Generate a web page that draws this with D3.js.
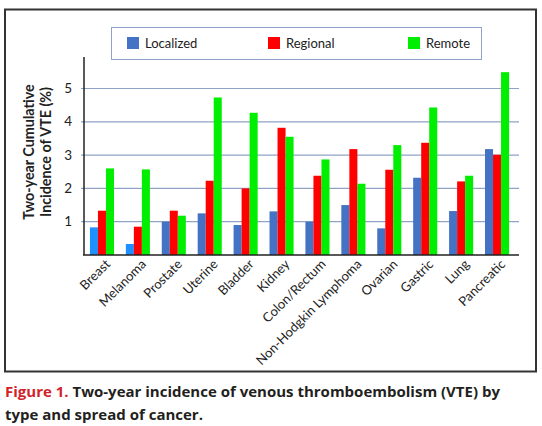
<!DOCTYPE html>
<html><head><meta charset="utf-8">
<script src="https://cdn.jsdelivr.net/npm/d3@7/dist/d3.min.js"></script>
<style>body{margin:0;background:#fff}svg{display:block}</style>
</head><body>
<svg id="c" width="542" height="426"></svg>
<script>
const categories = ["Breast","Melanoma","Prostate","Uterine","Bladder","Kidney","Colon/Rectum","Non-Hodgkin Lymphoma","Ovarian","Gastric","Lung","Pancreatic"];
const seriesNames = ["Localized","Regional","Remote"];
const localized = [0.83,0.33,1.0,1.25,0.9,1.31,1.0,1.5,0.8,2.32,1.32,3.18];
const regional  = [1.33,0.85,1.33,2.23,2.0,3.82,2.38,3.18,2.56,3.37,2.21,3.01];
const remote    = [2.6,2.57,1.18,4.73,4.27,3.55,2.87,2.14,3.3,4.43,2.38,5.49];
const yTicks = [1,2,3,4,5];
const colors = ["#4472C4","#FF0000","#00EE00"];
const lightBlue = "#1E90FF";

const svg = d3.select("#c");
const font = "Lato, 'Open Sans', sans-serif";

// outer frame
svg.append("rect").attr("x",5).attr("y",9.5).attr("width",531).attr("height",362)
  .attr("fill","none").attr("stroke","#333").attr("stroke-width",2);

const x0 = 84, x1 = 515, yBase = 255;
const x = d3.scaleBand().domain(categories).range([x0,x1]).paddingInner(0.33).paddingOuter(0.165);
const xs = d3.scaleBand().domain(seriesNames).range([0,x.bandwidth()]);
const y = d3.scaleLinear().domain([0,5]).range([yBase,88.5]);

// gridlines
svg.append("g").selectAll("line").data(yTicks).join("line")
  .attr("x1",81).attr("x2",519).attr("y1",d=>y(d)).attr("y2",d=>y(d))
  .attr("stroke","#8FA3C6").attr("stroke-width",1.2);

// y labels
svg.append("g").selectAll("text").data(yTicks).join("text")
  .attr("x",72).attr("y",d=>y(d)+4.5).attr("text-anchor","end")
  .attr("font-family",font).attr("font-size",13.5).attr("fill","#222").text(d=>d);

// bars
const data = [localized, regional, remote];
const g = svg.append("g");
categories.forEach((c,i)=>{
  seriesNames.forEach((s,j)=>{
    const v = data[j][i];
    let col = colors[j];
    if (j===0 && i<2) col = lightBlue;
    g.append("rect").attr("x",x(c)+xs(s)).attr("width",xs.bandwidth())
      .attr("y",y(v)).attr("height",yBase-y(v)).attr("fill",col);
  });
});

// axes lines
svg.append("line").attr("x1",x0).attr("x2",x0).attr("y1",57).attr("y2",yBase).attr("stroke","#222").attr("stroke-width",1.5);
svg.append("line").attr("x1",x0-1).attr("x2",519).attr("y1",yBase).attr("y2",yBase).attr("stroke","#222").attr("stroke-width",1.5);

// x labels
svg.append("g").selectAll("text").data(categories).join("text")
  .attr("transform",d=>`translate(${x(d)+x.bandwidth()/2+9},${yBase+10}) rotate(-45)`)
  .attr("text-anchor","end").attr("font-family",font).attr("font-size",13).attr("fill","#222").text(d=>d);

// y title
const yt = svg.append("text").attr("transform","translate(34,152) rotate(-90)")
  .attr("text-anchor","middle").attr("font-family",font).attr("font-size",14.3).attr("font-weight","bold").attr("fill","#222");
yt.append("tspan").attr("x",0).attr("dy",0).text("Two-year Cumulative");
yt.append("tspan").attr("x",0).attr("dy",16.5).text("Incidence of VTE (%)");

// legend
svg.append("rect").attr("x",111.5).attr("y",27.5).attr("width",370).attr("height",32)
  .attr("fill","#fff").attr("stroke","#8FA3C6").attr("stroke-width",1);
const legX = [127,268,408];
seriesNames.forEach((s,j)=>{
  svg.append("rect").attr("x",legX[j]).attr("y",37).attr("width",12).attr("height",12).attr("fill",colors[j]);
  svg.append("text").attr("x",legX[j]+18).attr("y",48).attr("font-family",font).attr("font-size",13).attr("fill","#222").text(s);
});

// caption
const cap = svg.append("text").attr("x",5).attr("y",397).attr("font-family","'Open Sans', sans-serif")
  .attr("font-size",15).attr("font-weight","bold").attr("fill","#231F20");
cap.append("tspan").attr("fill","#D2232A").text("Figure 1. ");
cap.append("tspan").text("Two-year incidence of venous thromboembolism (VTE) by");
svg.append("text").attr("x",5).attr("y",420).attr("font-family","'Open Sans', sans-serif")
  .attr("font-size",15).attr("font-weight","bold").attr("fill","#231F20").text("type and spread of cancer.");
</script>
</body></html>
